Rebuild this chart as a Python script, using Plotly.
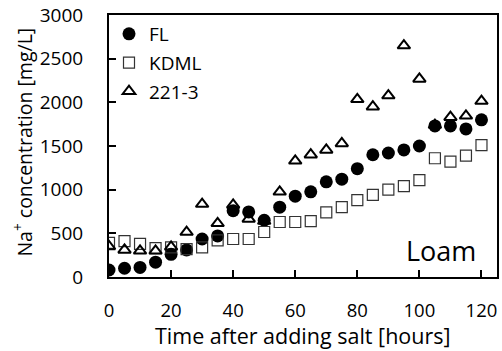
import plotly.graph_objects as go

hours = [0, 5, 10, 15, 20, 25, 30, 35, 40, 45, 50, 55, 60, 65, 70, 75, 80, 85, 90, 95, 100, 105, 110, 115, 120]
fl = [80, 100, 110, 170, 260, 310, 435, 470, 760, 745, 650, 800, 925, 975, 1090, 1120, 1240, 1400, 1420, 1455, 1500, 1730, 1730, 1695, 1800]
kdml = [390, 410, 380, 330, 340, 320, 340, 420, 435, 435, 515, 630, 630, 640, 740, 800, 880, 940, 1000, 1040, 1110, 1360, 1320, 1390, 1510]
t221 = [350, 310, 300, 300, 345, 515, 835, 615, 825, 665, 640, 975, 1330, 1400, 1455, 1530, 2035, 1950, 2077, 2650, 2268, 1740, 1830, 1845, 2015]

font = "Open Sans"
fig = go.Figure()
fig.add_trace(go.Scatter(x=hours, y=fl, mode="markers", name="FL", legendgroup="a",
                         marker=dict(symbol="circle", size=13, color="black", line=dict(width=0))))
fig.add_trace(go.Scatter(x=hours, y=kdml, mode="markers", name="KDML", legendgroup="b",
                         marker=dict(symbol="square-open", size=11, color="#333333", line=dict(width=1.2))))
fig.add_trace(go.Scatter(x=hours, y=t221, mode="markers", name="221-3", legendgroup="c",
                         marker=dict(symbol="triangle-up-open", size=11, color="black", line=dict(width=2))))

fig.update_layout(
    width=502, height=351,
    margin=dict(l=109, r=5, t=15, b=74, autoexpand=False),
    paper_bgcolor="white", plot_bgcolor="white",
    font=dict(family=font, size=19, color="black"),
    showlegend=True,
    legend=dict(x=0.0, y=1.0, xanchor="left", yanchor="top",
                bgcolor="rgba(0,0,0,0)", font=dict(size=19), itemsizing="trace",
                tracegroupgap=1),
    xaxis=dict(range=[0, 125], tickvals=[0, 20, 40, 60, 80, 100, 120],
               showgrid=False, zeroline=False, showline=True, linecolor="black", linewidth=2,
               mirror=True, ticks="inside", ticklen=7, tickwidth=2, tickcolor="black",
               ticklabelstandoff=16, automargin=False, tickfont=dict(size=18.5)),
    yaxis=dict(range=[0, 3000], tickvals=[0, 500, 1000, 1500, 2000, 2500, 3000],
               showgrid=False, zeroline=False, showline=True, linecolor="black", linewidth=2,
               mirror=True, ticks="inside", ticklen=7, tickwidth=2, tickcolor="black",
               ticklabelstandoff=20, automargin=False, tickfont=dict(size=19)),
    annotations=[
        dict(text="Time after adding salt [hours]", x=0.5, y=-0.222, xref="paper", yref="paper",
             xanchor="center", yanchor="middle", showarrow=False,
             font=dict(size=21.5, family=font)),
        dict(text="Loam", x=0.951, y=0.103, xref="paper", yref="paper",
             xanchor="right", yanchor="middle", showarrow=False,
             font=dict(size=27, family=font)),
        dict(text="Na<sup>+</sup> concentration [mg/L]", x=-0.2216, y=0.513, xref="paper", yref="paper",
             xanchor="center", yanchor="middle", showarrow=False, textangle=-90,
             font=dict(size=19.5, family=font)),
    ],
)
fig.write_html("out.html", config={"displayModeBar": False},
               post_script="document.body.style.margin='0';document.body.style.overflow='hidden';")
